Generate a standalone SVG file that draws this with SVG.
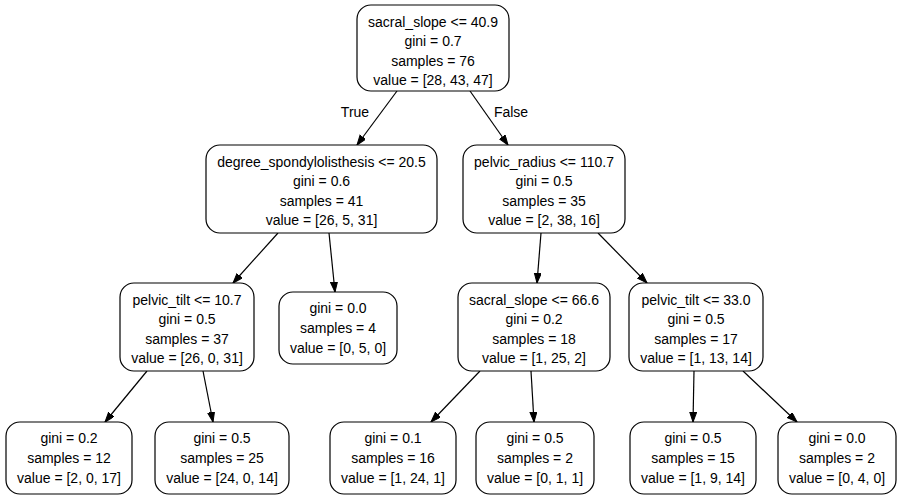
<svg xmlns="http://www.w3.org/2000/svg" width="902" height="497" viewBox="0 0 902 497">
<defs>
<marker id="ah" markerWidth="11" markerHeight="8" refX="10" refY="3.5" orient="auto" markerUnits="userSpaceOnUse">
<path d="M0,0 L10,3.5 L0,7 z" fill="#000" stroke="#000" stroke-width="1"/>
</marker>
</defs>
<style>
rect{fill:#fff;stroke:#000;stroke-width:1.2}
text{font-family:"Liberation Sans",Arial,Helvetica,sans-serif;font-size:14px;text-anchor:middle;fill:#000}
.e line{stroke:#000;stroke-width:1.2;marker-end:url(#ah)}
</style>
<rect x="0" y="0" width="902" height="497" style="fill:#fff;stroke:none"/>
<g class="e" id="edges">
<line x1="397" y1="91" x2="357" y2="145"/>
<line x1="470" y1="91" x2="508" y2="145"/>
<line x1="278" y1="233" x2="233" y2="283"/>
<line x1="329" y1="233" x2="335" y2="292"/>
<line x1="541" y1="233" x2="537" y2="283"/>
<line x1="598" y1="233" x2="647" y2="283"/>
<line x1="147" y1="371" x2="105" y2="422"/>
<line x1="203" y1="371" x2="213" y2="422"/>
<line x1="480" y1="371" x2="431" y2="422"/>
<line x1="531" y1="371" x2="534" y2="422"/>
<line x1="694" y1="371" x2="693" y2="422"/>
<line x1="743" y1="371" x2="797" y2="422"/>
<text x="355" y="117">True</text>
<text x="511" y="117">False</text>
</g>
<g id="n0">
<rect x="357" y="5" width="152" height="86" rx="14"/>
<text x="433" y="26.5">sacral_slope &lt;= 40.9</text>
<text x="433" y="46">gini = 0.7</text>
<text x="433" y="65.5">samples = 76</text>
<text x="433" y="85">value = [28, 43, 47]</text>
</g>
<g id="n1">
<rect x="206" y="145" width="231" height="88" rx="14"/>
<text x="321.5" y="166.5">degree_spondylolisthesis &lt;= 20.5</text>
<text x="321.5" y="186">gini = 0.6</text>
<text x="321.5" y="205.5">samples = 41</text>
<text x="321.5" y="225">value = [26, 5, 31]</text>
</g>
<g id="n8">
<rect x="463" y="145" width="162" height="88" rx="14"/>
<text x="544" y="166.5">pelvic_radius &lt;= 110.7</text>
<text x="544" y="186">gini = 0.5</text>
<text x="544" y="205.5">samples = 35</text>
<text x="544" y="225">value = [2, 38, 16]</text>
</g>
<g id="n2">
<rect x="120" y="283" width="134" height="88" rx="14"/>
<text x="187" y="304.5">pelvic_tilt &lt;= 10.7</text>
<text x="187" y="324">gini = 0.5</text>
<text x="187" y="343.5">samples = 37</text>
<text x="187" y="363">value = [26, 0, 31]</text>
</g>
<g id="n5">
<rect x="279" y="292" width="118" height="72" rx="14"/>
<text x="338" y="313">gini = 0.0</text>
<text x="338" y="333">samples = 4</text>
<text x="338" y="353">value = [0, 5, 0]</text>
</g>
<g id="n9">
<rect x="458" y="283" width="152" height="88" rx="14"/>
<text x="534" y="304.5">sacral_slope &lt;= 66.6</text>
<text x="534" y="324">gini = 0.2</text>
<text x="534" y="343.5">samples = 18</text>
<text x="534" y="363">value = [1, 25, 2]</text>
</g>
<g id="n12">
<rect x="629" y="283" width="134" height="88" rx="14"/>
<text x="696" y="304.5">pelvic_tilt &lt;= 33.0</text>
<text x="696" y="324">gini = 0.5</text>
<text x="696" y="343.5">samples = 17</text>
<text x="696" y="363">value = [1, 13, 14]</text>
</g>
<g id="n3">
<rect x="6" y="422" width="126" height="72" rx="14"/>
<text x="69" y="443">gini = 0.2</text>
<text x="69" y="463">samples = 12</text>
<text x="69" y="483">value = [2, 0, 17]</text>
</g>
<g id="n4">
<rect x="155" y="422" width="134" height="72" rx="14"/>
<text x="222" y="443">gini = 0.5</text>
<text x="222" y="463">samples = 25</text>
<text x="222" y="483">value = [24, 0, 14]</text>
</g>
<g id="n10">
<rect x="330" y="422" width="126" height="72" rx="14"/>
<text x="393" y="443">gini = 0.1</text>
<text x="393" y="463">samples = 16</text>
<text x="393" y="483">value = [1, 24, 1]</text>
</g>
<g id="n11">
<rect x="476" y="422" width="118" height="72" rx="14"/>
<text x="535" y="443">gini = 0.5</text>
<text x="535" y="463">samples = 2</text>
<text x="535" y="483">value = [0, 1, 1]</text>
</g>
<g id="n13">
<rect x="630" y="422" width="126" height="72" rx="14"/>
<text x="693" y="443">gini = 0.5</text>
<text x="693" y="463">samples = 15</text>
<text x="693" y="483">value = [1, 9, 14]</text>
</g>
<g id="n14">
<rect x="778" y="422" width="118" height="72" rx="14"/>
<text x="837" y="443">gini = 0.0</text>
<text x="837" y="463">samples = 2</text>
<text x="837" y="483">value = [0, 4, 0]</text>
</g>
</svg>
